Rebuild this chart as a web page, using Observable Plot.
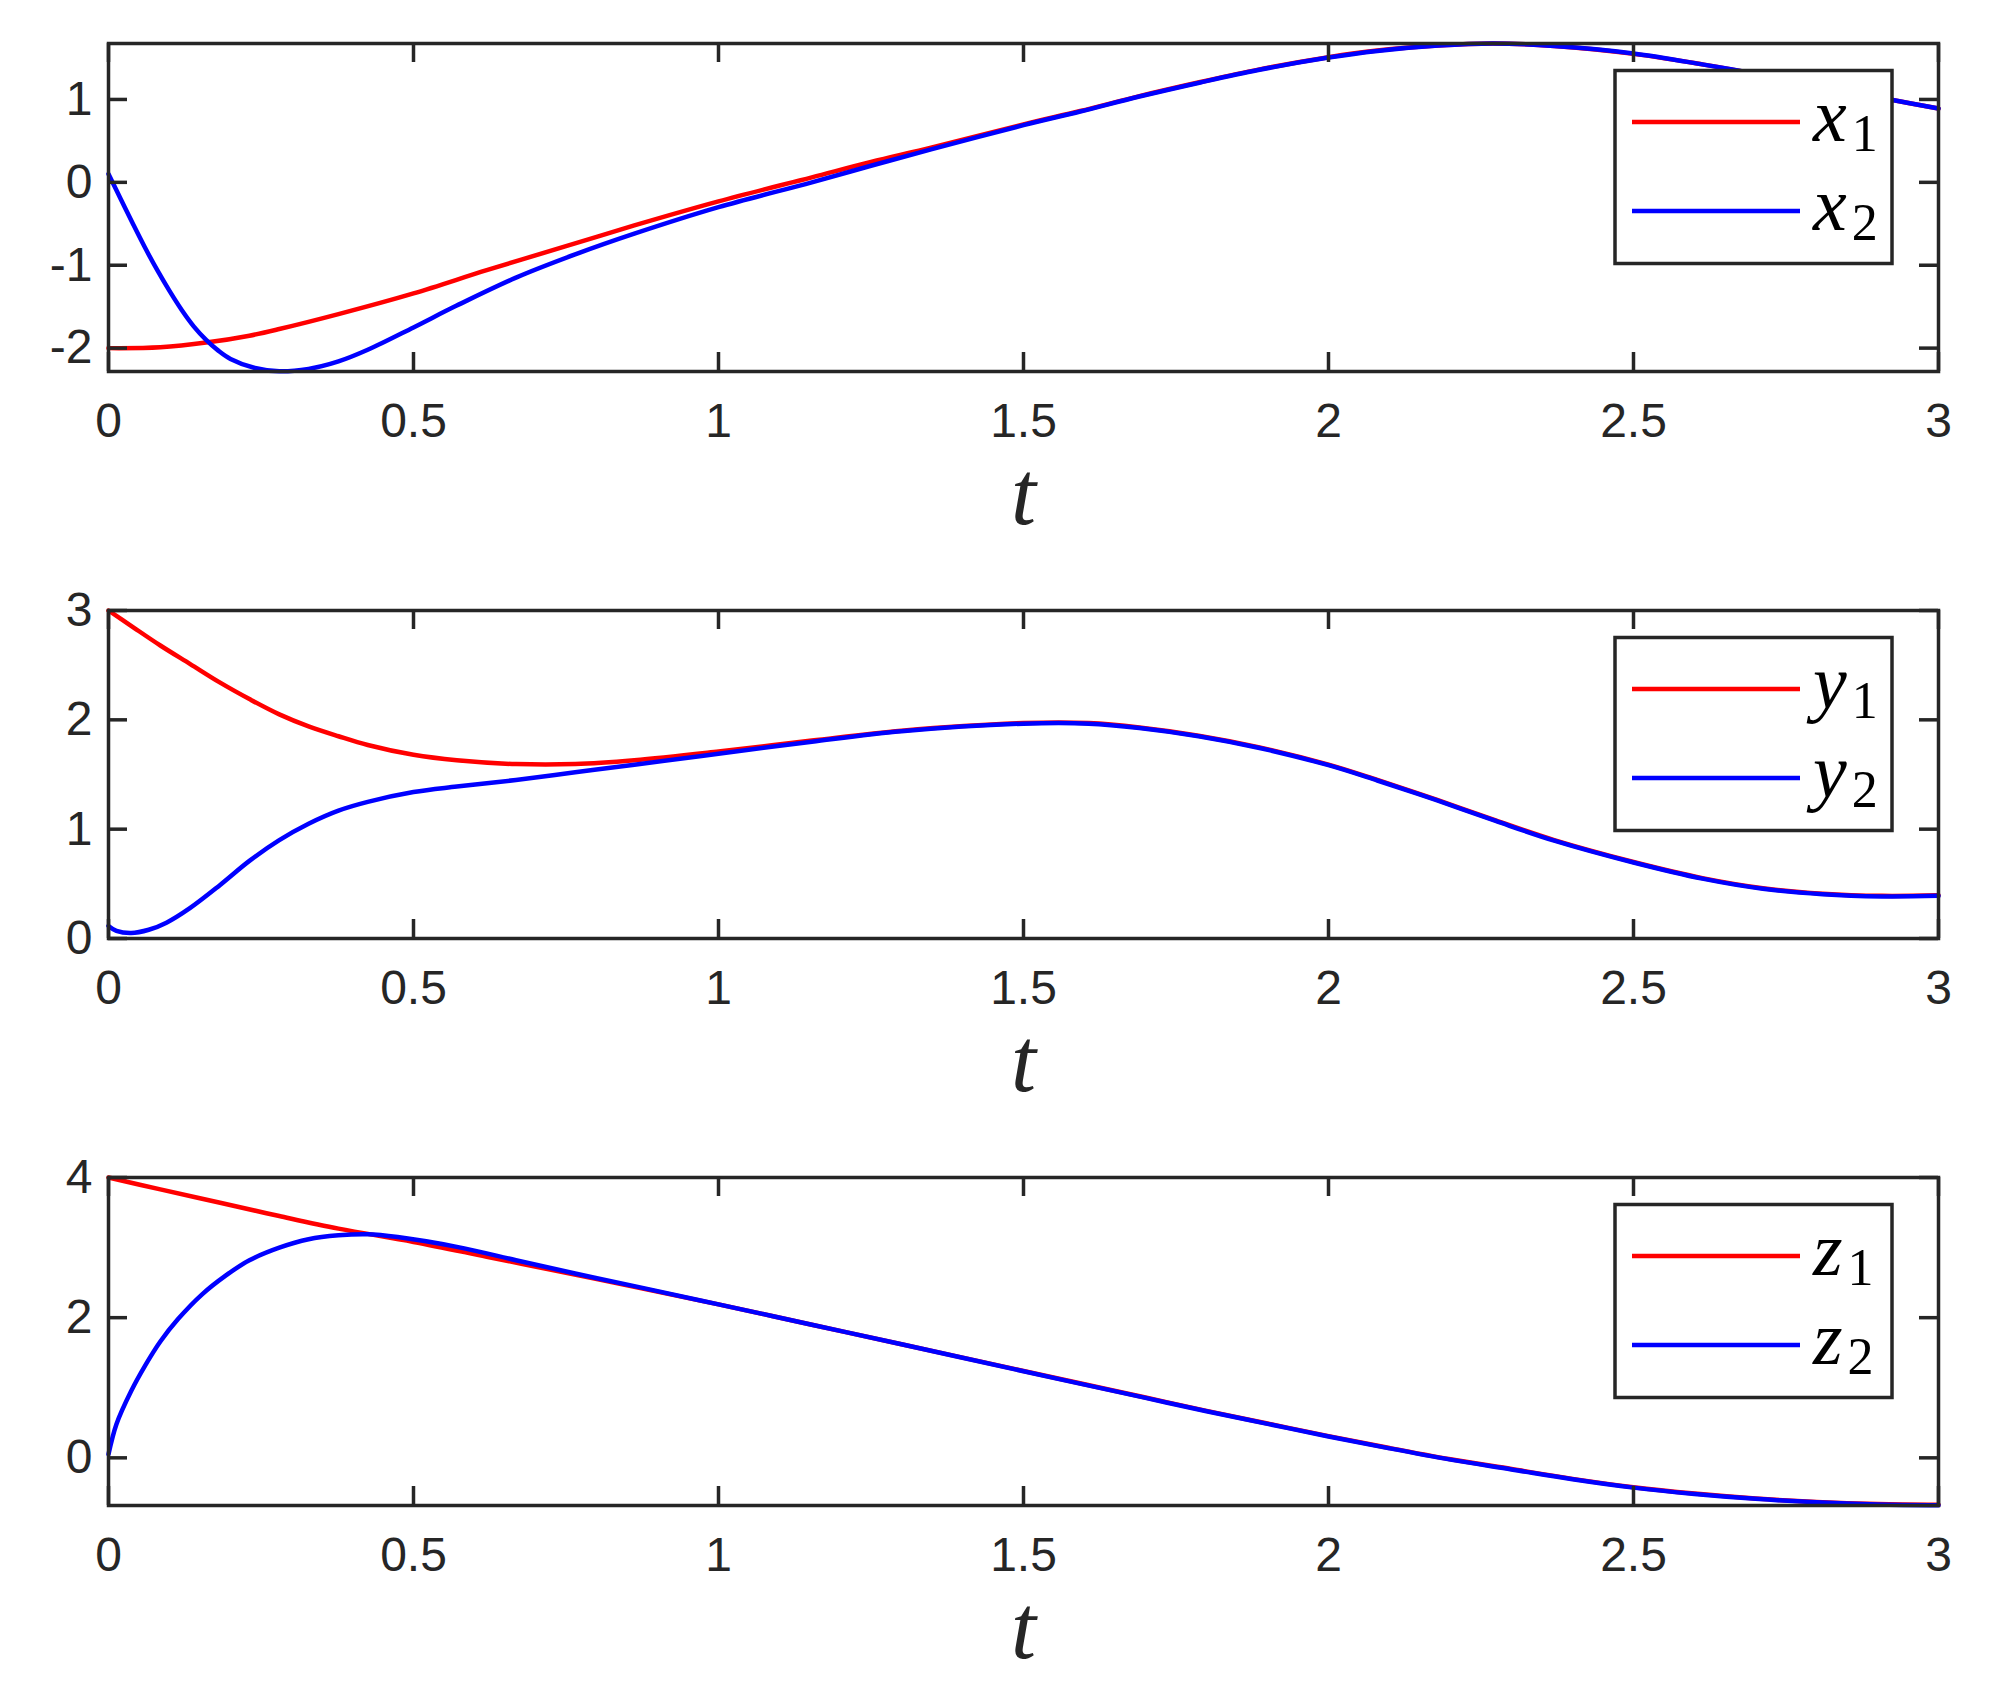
<!DOCTYPE html>
<html><head><meta charset="utf-8">
<script src="https://cdn.jsdelivr.net/npm/d3@7"></script>
<script src="https://cdn.jsdelivr.net/npm/@observablehq/plot@0.6"></script>
<style>html,body{margin:0;padding:0;background:#fff;overflow:hidden}svg{display:block}</style>
</head><body><div id="chart"></div><script>
// ---- data ----
const xTicks = [0, 0.5, 1, 1.5, 2, 2.5, 3];

// panel 1: x1 (red), x2 (blue)
const t_x1 = [0, 0.085, 0.163, 0.231, 0.28, 0.377, 0.5, 0.62, 0.75, 0.862, 1.0, 1.153, 1.25, 1.35, 1.5, 1.593, 1.69, 1.79, 1.885, 2.0, 2.08, 2.18, 2.27, 2.37, 2.5, 2.615, 2.7, 2.8, 2.927, 3.0];
const x1   = [-2.0, -1.99, -1.93, -1.85, -1.77, -1.59, -1.34, -1.06, -0.77, -0.52, -0.23, 0.06, 0.245, 0.42, 0.70, 0.86, 1.04, 1.21, 1.36, 1.51, 1.59, 1.65, 1.675, 1.645, 1.55, 1.42, 1.31, 1.17, 0.99, 0.89];
const t_x2 = [0, 0.02, 0.04, 0.06, 0.08, 0.10, 0.12, 0.14, 0.16, 0.18, 0.2, 0.24, 0.28, 0.328, 0.377, 0.425, 0.5, 0.57, 0.668, 0.765, 0.862, 1.0, 1.153, 1.25, 1.35, 1.5, 1.593, 1.69, 1.79, 1.885, 2.0, 2.08, 2.18, 2.27, 2.37, 2.5, 2.615, 2.7, 2.8, 2.927, 3.0];
const x2   = [0.10, -0.20, -0.50, -0.79, -1.06, -1.31, -1.54, -1.74, -1.90, -2.03, -2.13, -2.24, -2.28, -2.25, -2.16, -2.02, -1.75, -1.49, -1.15, -0.87, -0.62, -0.30, 0.0, 0.20, 0.40, 0.69, 0.855, 1.035, 1.205, 1.355, 1.505, 1.585, 1.65, 1.675, 1.645, 1.555, 1.42, 1.31, 1.17, 0.99, 0.89];

// panel 2: y1 (red), y2 (blue)
const t_y1 = [0, 0.037, 0.085, 0.134, 0.183, 0.231, 0.28, 0.328, 0.377, 0.425, 0.5, 0.571, 0.668, 0.765, 0.862, 1.0, 1.153, 1.3, 1.5, 1.607, 1.69, 1.787, 1.885, 2.0, 2.08, 2.177, 2.274, 2.37, 2.5, 2.615, 2.712, 2.81, 2.907, 3.0];
const y1   = [3.0, 2.86, 2.68, 2.51, 2.34, 2.19, 2.05, 1.94, 1.85, 1.77, 1.68, 1.63, 1.595, 1.595, 1.63, 1.71, 1.81, 1.90, 1.97, 1.97, 1.93, 1.855, 1.75, 1.59, 1.45, 1.27, 1.08, 0.90, 0.70, 0.55, 0.46, 0.41, 0.39, 0.395];
const t_y2 = [0, 0.013, 0.037, 0.066, 0.095, 0.134, 0.183, 0.231, 0.28, 0.328, 0.377, 0.425, 0.5, 0.571, 0.668, 0.765, 0.862, 1.0, 1.153, 1.3, 1.5, 1.607, 1.69, 1.787, 1.885, 2.0, 2.08, 2.177, 2.274, 2.37, 2.5, 2.615, 2.712, 2.81, 2.907, 3.0];
const y2   = [0.115, 0.07, 0.05, 0.08, 0.145, 0.28, 0.49, 0.71, 0.90, 1.05, 1.17, 1.25, 1.34, 1.39, 1.45, 1.52, 1.59, 1.69, 1.80, 1.895, 1.965, 1.965, 1.925, 1.85, 1.745, 1.585, 1.445, 1.265, 1.075, 0.895, 0.695, 0.545, 0.455, 0.405, 0.385, 0.39];

// panel 3: z1 (red), z2 (blue)
const t_z1 = [0, 0.085, 0.183, 0.28, 0.377, 0.5, 0.62, 0.75, 0.862, 1.0, 1.153, 1.3, 1.5, 1.6, 1.7, 1.8, 1.9, 2.0, 2.1, 2.2, 2.3, 2.4, 2.5, 2.6, 2.7, 2.8, 2.9, 3.0];
const z1   = [4.0, 3.83, 3.64, 3.45, 3.27, 3.08, 2.87, 2.64, 2.44, 2.19, 1.90, 1.62, 1.24, 1.05, 0.86, 0.67, 0.49, 0.31, 0.14, -0.02, -0.16, -0.30, -0.42, -0.51, -0.58, -0.63, -0.66, -0.67];
const t_z2 = [0, 0.013, 0.037, 0.061, 0.085, 0.114, 0.153, 0.192, 0.231, 0.28, 0.328, 0.377, 0.425, 0.474, 0.571, 0.668, 0.765, 0.862, 1.0, 1.153, 1.3, 1.5, 1.6, 1.7, 1.8, 1.9, 2.0, 2.1, 2.2, 2.3, 2.4, 2.5, 2.6, 2.7, 2.8, 2.9, 3.0];
const z2   = [0.05, 0.48, 0.95, 1.33, 1.66, 1.98, 2.33, 2.60, 2.82, 3.00, 3.12, 3.175, 3.19, 3.15, 3.01, 2.82, 2.63, 2.45, 2.19, 1.90, 1.62, 1.235, 1.045, 0.855, 0.665, 0.485, 0.305, 0.135, -0.025, -0.165, -0.305, -0.425, -0.515, -0.585, -0.635, -0.665, -0.675];

const yTicks1 = [-2, -1, 0, 1];
const yTicks2 = [0, 1, 2, 3];
const yTicks3 = [0, 2, 4];
const names1 = [["x", "1"], ["x", "2"]];
const names2 = [["y", "1"], ["y", "2"]];
const names3 = [["z", "1"], ["z", "2"]];
const xLabel = "t";
const colors = ["#ff0000", "#0000ff"];

// ---- drawing ----
const W = 2015, ML = 108, MR = 77, MT = 43, PH = 328;
const PW = W - ML - MR;
const axisColor = "#262626";
const LW = 4.5;

function toRows(ts, vs) { return ts.map((t, i) => ({t, v: vs[i]})); }

function panel(cfg) {
  const {s1, s2, yDomain, yTicks, names, height} = cfg;
  const MB = height - MT - PH;
  const svg = Plot.plot({
    width: W, height, marginLeft: ML, marginRight: MR, marginTop: MT, marginBottom: MB,
    x: {domain: [0, 3]},
    y: {domain: yDomain},
    style: {fontFamily: "'Liberation Sans', Arial, sans-serif", fontSize: "48px", color: axisColor, background: "white", overflow: "visible"},
    marks: [
      Plot.line(s1, {x: "t", y: "v", stroke: colors[0], strokeWidth: LW, curve: "catmull-rom"}),
      Plot.line(s2, {x: "t", y: "v", stroke: colors[1], strokeWidth: LW, curve: "catmull-rom"}),
      Plot.frame({stroke: axisColor, strokeWidth: 3.5}),
      Plot.tickX(xTicks, {x: d => d, stroke: axisColor, strokeWidth: 3.5, insetTop: PH - 19}),
      Plot.tickX(xTicks, {x: d => d, stroke: axisColor, strokeWidth: 3.5, insetBottom: PH - 19}),
      Plot.tickY(yTicks, {y: d => d, stroke: axisColor, strokeWidth: 3.5, insetRight: PW - 19}),
      Plot.tickY(yTicks, {y: d => d, stroke: axisColor, strokeWidth: 3.5, insetLeft: PW - 19}),
      Plot.axisX({ticks: xTicks, tickSize: 0, tickPadding: 31, tickFormat: d => String(d), label: null}),
      Plot.axisY({ticks: yTicks, tickSize: 0, tickPadding: 16, tickFormat: d => String(d), label: null}),
      Plot.text([xLabel], {text: d => d, frameAnchor: "bottom", dy: 152, fontSize: 90, fontStyle: "italic",
        fontFamily: "'Liberation Serif', 'Times New Roman', serif", fill: axisColor})
    ]
  });
  // in-plot legend box (top right), as in the reference
  const g = d3.select(svg).append("g").attr("text-anchor", "start");
  const bx = 1615, by = MT + 27.5;
  g.append("rect").attr("x", bx).attr("y", by).attr("width", 277).attr("height", 193)
    .attr("fill", "white").attr("stroke", axisColor).attr("stroke-width", 3.5);
  names.forEach((nm, i) => {
    const ly = MT + 79 + i * 89;
    g.append("line").attr("x1", 1632).attr("x2", 1800).attr("y1", ly).attr("y2", ly)
      .attr("stroke", colors[i]).attr("stroke-width", LW);
    const tx = g.append("text").attr("x", 1813).attr("y", ly + 18.5).attr("text-anchor", "start")
      .attr("font-family", "'Liberation Serif', 'Times New Roman', serif").attr("fill", "#000");
    tx.append("tspan").attr("font-style", "italic").attr("font-size", 76).text(nm[0]);
    tx.append("tspan").attr("font-size", 52).attr("dx", 5).attr("dy", 10.5).text(nm[1]);
  });
  return svg;
}

const root = document.getElementById("chart");
root.appendChild(panel({s1: toRows(t_x1, x1), s2: toRows(t_x2, x2), yDomain: [-2.282, 1.675], yTicks: yTicks1, names: names1, height: 567}));
root.appendChild(panel({s1: toRows(t_y1, y1), s2: toRows(t_y2, y2), yDomain: [0, 3.0], yTicks: yTicks2, names: names2, height: 567}));
root.appendChild(panel({s1: toRows(t_z1, z1), s2: toRows(t_z2, z2), yDomain: [-0.68, 4.0], yTicks: yTicks3, names: names3, height: 553}));
</script></body></html>
